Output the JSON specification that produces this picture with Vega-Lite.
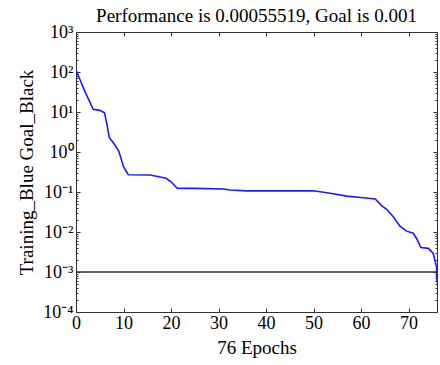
{
  "$schema": "https://vega.github.io/schema/vega-lite/v6.json",
  "width": 361,
  "height": 280,
  "autosize": "none",
  "padding": {"left": 76, "top": 32, "right": 3, "bottom": 53},
  "background": "white",
  "title": {"text": "Performance is 0.00055519, Goal is 0.001", "font": "Liberation Serif", "fontSize": 19, "fontWeight": "normal", "color": "black", "offset": -3},
  "config": {
    "font": "Liberation Serif",
    "view": {"stroke": "#303030", "strokeWidth": 1},
    "axis": {
      "domain": false,
      "grid": false,
      "labelFont": "Liberation Serif",
      "labelFontSize": 18,
      "labelColor": "black",
      "titleFont": "Liberation Serif",
      "titleFontSize": 19,
      "titleFontWeight": "normal",
      "titleColor": "black",
      "tickColor": "#303030",
      "tickWidth": 1
    }
  },
  "datasets": {
    "perf": [
      {"epoch": 0, "perf": 112},
      {"epoch": 1, "perf": 58},
      {"epoch": 2, "perf": 30},
      {"epoch": 3, "perf": 17},
      {"epoch": 3.6, "perf": 11.7},
      {"epoch": 5, "perf": 11},
      {"epoch": 6, "perf": 9.6},
      {"epoch": 6.5, "perf": 5},
      {"epoch": 7, "perf": 2.3},
      {"epoch": 8, "perf": 1.6},
      {"epoch": 9, "perf": 1.06},
      {"epoch": 10, "perf": 0.43},
      {"epoch": 11, "perf": 0.27},
      {"epoch": 15.6, "perf": 0.266},
      {"epoch": 19, "perf": 0.22},
      {"epoch": 20, "perf": 0.18},
      {"epoch": 21.3, "perf": 0.124},
      {"epoch": 25, "perf": 0.123},
      {"epoch": 31, "perf": 0.119},
      {"epoch": 32.4, "perf": 0.112},
      {"epoch": 36, "perf": 0.107},
      {"epoch": 50, "perf": 0.107},
      {"epoch": 53.5, "perf": 0.093},
      {"epoch": 57, "perf": 0.079},
      {"epoch": 60.5, "perf": 0.072},
      {"epoch": 63, "perf": 0.067},
      {"epoch": 64.4, "perf": 0.045},
      {"epoch": 65.4, "perf": 0.037},
      {"epoch": 66.8, "perf": 0.024},
      {"epoch": 68.2, "perf": 0.014},
      {"epoch": 69.6, "perf": 0.0105},
      {"epoch": 71, "perf": 0.0093},
      {"epoch": 71.7, "perf": 0.0069},
      {"epoch": 72.6, "perf": 0.0041},
      {"epoch": 74.2, "perf": 0.0039},
      {"epoch": 75.2, "perf": 0.0029},
      {"epoch": 75.9, "perf": 0.00135},
      {"epoch": 76, "perf": 0.00055519}
    ],
    "goal": [{"start": 0, "end": 76, "goal": 0.001}]
  },
  "resolve": {"axis": {"x": "independent", "y": "independent"}},
  "layer": [
    {
      "data": {"name": "perf"},
      "mark": {"type": "line", "color": "#1a1aff", "strokeWidth": 1.6, "clip": true},
      "encoding": {
        "x": {
          "field": "epoch", "type": "quantitative",
          "scale": {"domain": [0, 76], "nice": false, "zero": false},
          "axis": {"orient": "bottom", "values": [0, 10, 20, 30, 40, 50, 60, 70], "tickSize": -4, "labelPadding": 6, "title": "76 Epochs", "titlePadding": 6, "labelFlush": false}
        },
        "y": {
          "field": "perf", "type": "quantitative",
          "scale": {"type": "log", "domain": [0.0001, 1000], "nice": false},
          "axis": {
            "orient": "left",
            "values": [0.0001,0.0002,0.0003,0.0004,0.0005,0.0006,0.0007,0.0008,0.0009,0.001,0.002,0.003,0.004,0.005,0.006,0.007,0.008,0.009,0.01,0.02,0.03,0.04,0.05,0.06,0.07,0.08,0.09,0.1,0.2,0.3,0.4,0.5,0.6,0.7,0.8,0.9,1,2,3,4,5,6,7,8,9,10,20,30,40,50,60,70,80,90,100,200,300,400,500,600,700,800,900,1000],
            "tickSize": {"condition": {"test": "abs(log(datum.value)/LN10 - round(log(datum.value)/LN10)) < 0.01", "value": -4}, "value": -2},
            "labelPadding": 7,
            "labelExpr": "abs(log(datum.value)/LN10 - round(log(datum.value)/LN10)) > 0.01 ? '' : (round(log(datum.value)/LN10) == 3 ? '10³' : round(log(datum.value)/LN10) == 2 ? '10²' : round(log(datum.value)/LN10) == 1 ? '10¹' : round(log(datum.value)/LN10) == 0 ? '10⁰' : round(log(datum.value)/LN10) == -1 ? '10⁻¹' : round(log(datum.value)/LN10) == -2 ? '10⁻²' : round(log(datum.value)/LN10) == -3 ? '10⁻³' : '10⁻⁴')",
            "title": "Training_Blue Goal_Black",
            "titlePadding": 6
          }
        }
      }
    },
    {
      "data": {"name": "goal"},
      "mark": {"type": "rule", "color": "#303030", "strokeWidth": 1.5},
      "encoding": {
        "x": {
          "field": "start", "type": "quantitative",
          "axis": {"orient": "top", "values": [0, 10, 20, 30, 40, 50, 60, 70], "tickSize": -4, "labels": false, "title": null}
        },
        "x2": {"field": "end"},
        "y": {
          "field": "goal", "type": "quantitative",
          "axis": {
            "orient": "right",
            "values": [0.0001,0.0002,0.0003,0.0004,0.0005,0.0006,0.0007,0.0008,0.0009,0.001,0.002,0.003,0.004,0.005,0.006,0.007,0.008,0.009,0.01,0.02,0.03,0.04,0.05,0.06,0.07,0.08,0.09,0.1,0.2,0.3,0.4,0.5,0.6,0.7,0.8,0.9,1,2,3,4,5,6,7,8,9,10,20,30,40,50,60,70,80,90,100,200,300,400,500,600,700,800,900,1000],
            "tickSize": {"condition": {"test": "abs(log(datum.value)/LN10 - round(log(datum.value)/LN10)) < 0.01", "value": -4}, "value": -2},
            "labels": false,
            "title": null
          }
        }
      }
    }
  ]
}
